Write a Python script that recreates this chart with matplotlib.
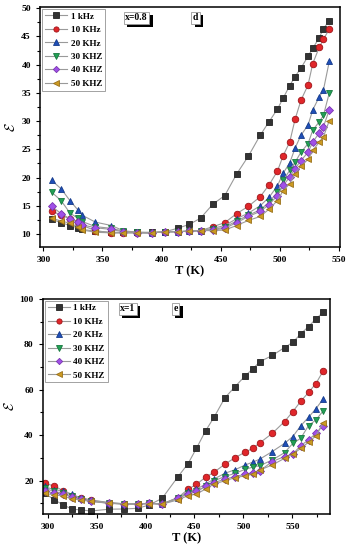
import matplotlib
matplotlib.use("Agg")
import matplotlib.pyplot as plt
from matplotlib.ticker import MultipleLocator
import matplotlib.patheffects as pe

plt.rcParams['font.family'] = ['Liberation Serif', 'DejaVu Serif']
plt.rcParams['font.weight'] = 'bold'
plt.rcParams['mathtext.fontset'] = 'cm'

labels = ['1 kHz', '10 KHz', '20 KHz', '30 KHZ', '40 KHZ', '50 KHZ']
colors = ['#333333', '#e0262a', '#1f4fb8', '#22a055', '#a050e8', '#cc9a22']
edges = ['#222222', '#a01418', '#143a8a', '#16783e', '#7a36b0', '#99701a']
markers = ['s', 'o', '^', 'v', 'D', '<']

# panel d : x = 0.8
T_d = [307, 315, 322.5, 329, 333, 344, 357.5, 367.5, 379, 392, 403, 413.5, 423.5, 433,
       443.5, 453.5, 463.5, 473.5, 483.5, 491, 498, 503, 508.5, 513, 518, 524, 528,
       533.5, 537, 542]
d_1k = [12.6, 12.0, 11.5, 11.1, 10.8, 10.5, 10.3, 10.3, 10.3, 10.3, 10.4, 11.0, 11.7, 12.8,
        15.3, 16.8, 20.6, 23.8, 27.5, 29.9, 32.1, 34.1, 36.3, 37.9, 39.4, 41.5, 42.9,
        44.8, 46.4, 47.8]
d_10k = [14.1, 13.3, 12.7, 12.1, 11.5, 10.6, 10.2, 10.2, 10.2, 10.2, 10.4, 10.4, 10.5, 10.6,
         11.3, 12.0, 13.6, 14.9, 16.6, 18.7, 21.1, 23.9, 26.3, 30.3, 33.7, 36.4, 40.2,
         43.1, 44.5, 46.3]
d_20k = [19.5, 18.0, 15.9, 14.3, 13.3, 12.1, 11.5, 10.6, 10.3, 10.2, 10.4, 10.4, 10.5, 10.6,
         11.0, 11.5, 12.7, 13.7, 15.0, 16.5, 18.5, 20.8, 22.6, 25.2, 27.5, 29.3, 32.0,
         34.3, 35.5, 40.6]
d_30k = [17.4, 15.9, 13.7, 12.8, 12.2, 11.3, 11.0, 10.5, 10.3, 10.2, 10.4, 10.4, 10.5, 10.6,
         10.8, 11.2, 12.3, 13.3, 14.3, 15.6, 17.4, 19.5, 21.3, 22.7, 24.5, 26.0, 28.4,
         29.9, 31.0, 35.0]
d_40k = [14.9, 13.6, 12.7, 12.1, 11.6, 11.1, 10.8, 10.4, 10.2, 10.2, 10.4, 10.4, 10.5, 10.6,
         10.7, 11.0, 12.0, 13.1, 14.0, 15.2, 16.8, 18.6, 20.1, 21.6, 23.0, 24.5, 26.3,
         27.9, 29.0, 32.0]
d_50k = [12.8, 12.3, 11.9, 11.3, 10.7, 10.3, 10.2, 10.2, 10.2, 10.2, 10.4, 10.4, 10.5, 10.6,
         10.6, 10.7, 11.5, 12.4, 13.1, 14.4, 15.9, 17.7, 18.9, 20.7, 22.1, 23.2, 24.8,
         26.3, 27.2, 30.1]

# panel e : x = 1
T_e = [297, 307, 316, 325, 334, 344, 363, 378, 392, 404, 417, 433, 443.5, 452, 461.5, 470,
       481, 491.5, 502, 509.5, 517, 529.5, 542, 550.5, 558.5, 566.5, 574, 581.5]
e_1k = [14.5, 11.5, 9.3, 7.4, 7.1, 6.6, 7.4, 7.5, 7.8, 9.3, 12.2, 21.6, 27.5, 34.2, 42.0, 47.9,
        56.4, 61.4, 66.2, 69.2, 72.4, 75.1, 78.6, 80.9, 84.6, 87.8, 91.2, 94.1]
e_10k = [18.8, 17.6, 15.5, 13.4, 12.5, 11.5, 10.3, 9.8, 9.7, 10.0, 9.7, 12.5, 16.2, 18.4, 21.5,
         23.7, 27.2, 30.1, 32.6, 34.2, 36.7, 40.8, 46.0, 50.4, 54.9, 58.8, 62.7, 68.3]
e_20k = [17.4, 15.9, 15.5, 14.0, 12.3, 11.3, 10.2, 9.8, 9.7, 10.0, 9.7, 12.5, 15.2, 16.2, 18.5,
         20.7, 23.2, 24.8, 26.9, 28.1, 29.5, 32.8, 36.4, 39.4, 44.1, 47.9, 51.6, 56.0]
e_30k = [16.6, 15.2, 14.4, 13.0, 12.0, 11.0, 10.1, 9.7, 9.7, 10.0, 9.7, 12.2, 14.4, 15.5, 17.4,
         19.9, 21.8, 23.2, 25.0, 25.9, 26.6, 29.1, 32.3, 36.4, 38.6, 44.2, 46.7, 50.7]
e_40k = [15.5, 14.4, 14.0, 12.7, 11.8, 11.0, 10.0, 9.7, 9.7, 10.0, 9.7, 12.2, 14.1, 15.2, 17.4,
         19.1, 20.6, 21.8, 22.8, 23.5, 24.4, 28.4, 30.6, 31.7, 35.4, 37.9, 40.8, 44.2]
e_50k = [14.4, 13.7, 13.2, 11.9, 11.5, 10.8, 10.0, 9.7, 9.6, 9.9, 9.6, 11.5, 13.4, 14.1, 16.3,
         18.5, 19.9, 21.3, 22.1, 22.9, 24.7, 26.9, 29.8, 31.6, 34.2, 36.9, 39.7, 45.5]

fig = plt.figure(figsize=(3.53, 5.5), dpi=100)
ax1 = fig.add_axes([0.113, 0.551, 0.850, 0.436])
ax2 = fig.add_axes([0.121, 0.0655, 0.814, 0.391])


def boxed(ax, x, y, s):
    # label box with a black drop shadow, Origin style
    t = ax.text(x, y, s, transform=ax.transAxes, fontsize=7, va='top', ha='left',
                bbox=dict(boxstyle='square,pad=0.15', fc='white', ec='#999999', lw=0.6),
                zorder=6)
    t.get_bbox_patch().set_path_effects([
        pe.SimplePatchShadow(offset=(2.5, -2.5), shadow_rgbFace='black', alpha=1.0),
        pe.Normal()])


def panel(ax, T, series, xlim, ylim, ymaj, ymin):
    for vals, lab, c, ec, m in zip(series, labels, colors, edges, markers):
        ms = 4.0 if m == 'D' else 4.7
        ax.plot(T, vals, color='#9a9a9a', lw=0.8, marker=m, ms=ms, mfc=c,
                mec=ec, mew=0.6, label=lab)
    ax.set_xlim(*xlim)
    ax.set_ylim(*ylim)
    ax.xaxis.set_major_locator(MultipleLocator(50))
    ax.xaxis.set_minor_locator(MultipleLocator(25))
    ax.yaxis.set_major_locator(MultipleLocator(ymaj))
    ax.yaxis.set_minor_locator(MultipleLocator(ymin))
    ax.tick_params(which='both', direction='out', labelsize=6.8, width=0.8)
    ax.tick_params(which='major', length=3)
    ax.tick_params(which='minor', length=2)
    for sp in ax.spines.values():
        sp.set_linewidth(1.1)
    ax.set_xlabel('T (K)', fontsize=9, fontweight='bold', labelpad=1)
    ax.set_ylabel(r'$\mathcal{E}$', fontsize=10, labelpad=2)
    leg = ax.legend(loc='upper left', fontsize=6.6, frameon=True, fancybox=False,
                    edgecolor='#777777', handlelength=2.4, handletextpad=0.4,
                    labelspacing=0.55, borderpad=0.3, borderaxespad=0.25,
                    markerscale=0.8)
    leg.get_frame().set_linewidth(0.6)


panel(ax1, T_d, [d_1k, d_10k, d_20k, d_30k, d_40k, d_50k], (297, 551), (7.7, 50.2), 5, 2.5)
panel(ax2, T_e, [e_1k, e_10k, e_20k, e_30k, e_40k, e_50k], (295, 588.5), (5.3, 100), 20, 10)

boxed(ax1, 0.285, 0.975, 'x=0.8')
boxed(ax1, 0.51, 0.975, 'd')
boxed(ax2, 0.27, 0.975, 'x=1')
boxed(ax2, 0.455, 0.975, 'e')

fig.savefig('out.png', dpi=100)
